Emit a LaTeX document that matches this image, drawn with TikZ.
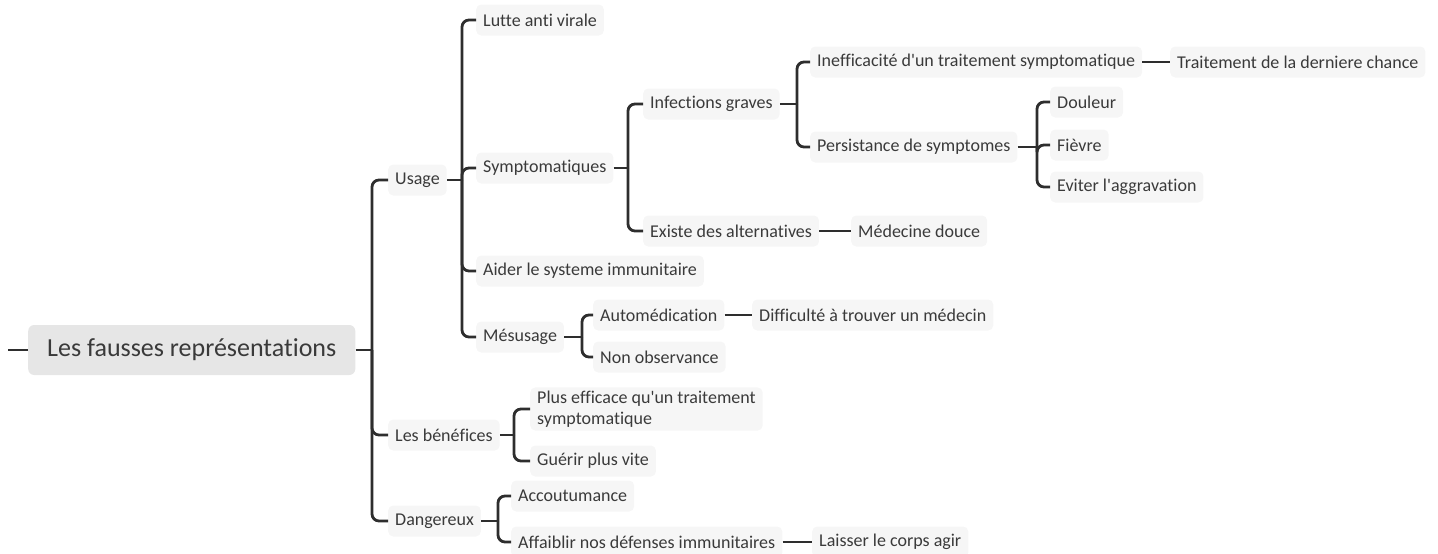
\documentclass[tikz,border=0pt]{standalone}
\usepackage{fontspec}
\setmainfont{Carlito}[Ligatures={NoCommon}]
\definecolor{ink}{HTML}{3A3A3A}
\definecolor{wire}{HTML}{2E2E2E}
\definecolor{leafbg}{HTML}{F6F6F6}
\definecolor{rootbg}{HTML}{E6E6E6}
\tikzset{
  leaf/.style={fill=leafbg,rounded corners=5pt,inner xsep=7pt,minimum height=31pt,
    anchor=west,text=ink,font=\fontsize{18}{21}\selectfont,align=left},
  topic/.style={fill=rootbg,rounded corners=6pt,inner xsep=19pt,minimum height=50pt,
    anchor=west,text=ink,font=\fontsize{26}{30}\selectfont},
  link/.style={draw=wire,line width=2.8pt,rounded corners=7pt},
}
\begin{document}
\begin{tikzpicture}[x=1pt,y=-1pt]
  \useasboundingbox (0,0) rectangle (1438,554);
  % main topic
  \node[topic] (root) at (28,350) {Les fausses représentations};
  \coordinate (rootIn) at (8,350);
  \draw[link] (rootIn) -- (root.west);
  % first level
  \node[leaf] (usage) at (388,180) {Usage};
  \node[leaf] (benef) at (388,435) {Les bénéfices};
  \node[leaf] (dang) at (388,521) {Dangereux};
  \coordinate (rootS) at (372,350);
  \draw[link] (root.east) -- (rootS);
  \foreach \c in {usage,benef,dang}
    \draw[link] (rootS) |- (\c.west);
  % usage
  \node[leaf] (lutte) at (476,20) {Lutte anti virale};
  \node[leaf] (sympt) at (476,168) {Symptomatiques};
  \node[leaf] (aider) at (476,271) {Aider le systeme immunitaire};
  \node[leaf] (mesus) at (476,337) {Mésusage};
  \coordinate (usageS) at (462,180);
  \draw[link] (usage.east) -- (usageS);
  \foreach \c in {lutte,sympt,aider,mesus}
    \draw[link] (usageS) |- (\c.west);
  % symptomatiques
  \node[leaf] (infect) at (643,104) {Infections graves};
  \node[leaf] (exist) at (643,231) {Existe des alternatives};
  \node[leaf] (douce) at (851,231) {Médecine douce};
  \coordinate (symptS) at (628,168);
  \draw[link] (sympt.east) -- (symptS);
  \foreach \c in {infect,exist}
    \draw[link] (symptS) |- (\c.west);
  \draw[link] (exist) -- (douce);
  % infections graves
  \node[leaf] (ineff) at (810,62) {Inefficacité d\textquotesingle un traitement symptomatique};
  \node[leaf] (chance) at (1170,62) {Traitement de la derniere chance};
  \node[leaf] (persist) at (810,147) {Persistance de symptomes};
  \coordinate (infectS) at (797,104);
  \draw[link] (infect.east) -- (infectS);
  \foreach \c in {ineff,persist}
    \draw[link] (infectS) |- (\c.west);
  \draw[link] (ineff) -- (chance);
  % persistance
  \node[leaf] (douleur) at (1050,102) {Douleur};
  \node[leaf] (fievre) at (1050,145) {Fièvre};
  \node[leaf] (eviter) at (1050,187) {Eviter l\textquotesingle aggravation};
  \coordinate (persistS) at (1037,147);
  \draw[link] (persist.east) -- (persistS);
  \foreach \c in {douleur,fievre,eviter}
    \draw[link] (persistS) |- (\c.west);
  % mesusage
  \node[leaf] (automed) at (593,315) {Automédication};
  \node[leaf] (medecin) at (752,315) {Difficulté à trouver un médecin};
  \node[leaf] (nonobs) at (593,357) {Non observance};
  \coordinate (mesusS) at (582,337);
  \draw[link] (mesus.east) -- (mesusS);
  \foreach \c in {automed,nonobs}
    \draw[link] (mesusS) |- (\c.west);
  \draw[link] (automed) -- (medecin);
  % benefices
  \node[leaf] (plus) at (530,409) {Plus efficace qu\textquotesingle un traitement\\symptomatique};
  \node[leaf] (guerir) at (530,461) {Guérir plus vite};
  \coordinate (benefS) at (514,435);
  \draw[link] (benef.east) -- (benefS);
  \foreach \c in {plus,guerir}
    \draw[link] (benefS) |- (\c.west);
  % dangereux
  \node[leaf] (accout) at (511,496) {Accoutumance};
  \node[leaf] (affaib) at (511,542) {Affaiblir nos défenses immunitaires};
  \node[leaf] (laisser) at (812,542) {Laisser le corps agir};
  \coordinate (dangS) at (498,521);
  \draw[link] (dang.east) -- (dangS);
  \foreach \c in {accout,affaib}
    \draw[link] (dangS) |- (\c.west);
  \draw[link] (affaib) -- (laisser);
\end{tikzpicture}
\end{document}
